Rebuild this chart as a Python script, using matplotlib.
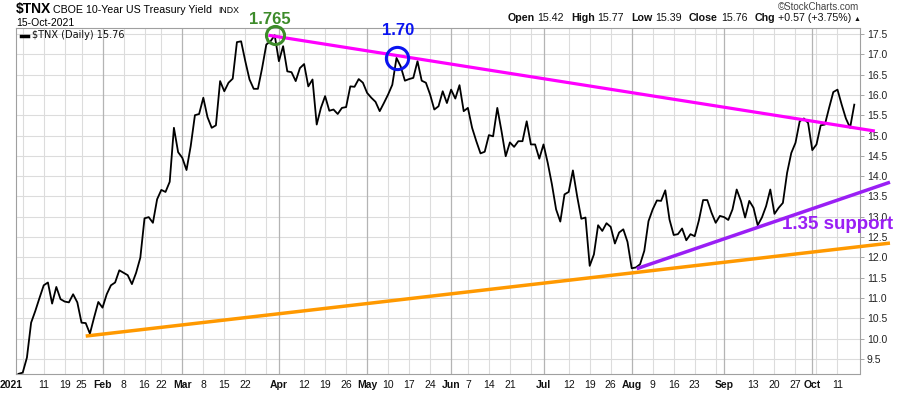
import numpy as np
import pandas as pd
import matplotlib
matplotlib.use("Agg")
import matplotlib.pyplot as plt
from matplotlib.lines import Line2D

# ---------------- data (TNX daily close, x10 yield) ----------------
prev_close = [9.13]  # 31-Dec-2020
jan = [9.16, 9.53, 10.39, 10.68, 11.00, 11.31, 11.38, 10.86, 11.27, 10.97,
       10.91, 10.89, 11.09, 10.89, 10.39, 10.38, 10.12, 10.52, 10.90]
feb = [10.76, 11.09, 11.31, 11.38, 11.68, 11.62, 11.56, 11.34, 11.62, 11.99,
       12.96, 12.99, 12.85, 13.43, 13.66, 13.61, 13.86, 15.19, 14.59]
mar = [14.45, 14.15, 14.74, 15.50, 15.53, 15.93, 15.45, 15.19, 15.25, 16.34,
       16.09, 16.30, 16.40, 17.30, 17.32, 16.83, 16.38, 16.15, 16.15, 16.66,
       17.24, 17.32, 17.47]
apr = [16.83, 17.20, 16.58, 16.56, 16.34, 16.66, 16.76, 16.21, 16.38, 15.27,
       15.68, 15.97, 15.61, 15.64, 15.53, 15.68, 15.70, 16.21, 16.20, 16.39,
       16.30]
may = [16.05, 15.93, 15.83, 15.60, 15.80, 16.01, 16.25, 16.91, 16.70, 16.35,
       16.39, 16.42, 16.83, 16.35, 16.30, 16.01, 15.64, 15.72, 16.09, 15.80]
jun = [16.13, 15.91, 16.24, 15.60, 15.68, 15.19, 14.86, 14.56, 14.60, 15.01,
       14.98, 15.68, 15.11, 14.49, 14.83, 14.72, 14.86, 14.86, 15.35, 14.78,
       14.78, 14.43]
jul = [14.78, 14.33, 13.80, 13.18, 12.88, 13.55, 13.61, 14.14, 13.51, 12.95,
       12.98, 11.79, 12.07, 12.79, 12.65, 12.84, 12.75, 12.34, 12.61, 12.69,
       12.38]
aug = [11.73, 11.75, 11.83, 12.16, 12.89, 13.18, 13.40, 13.39, 13.65, 12.93,
       12.55, 12.57, 12.71, 12.42, 12.57, 12.52, 12.91, 13.41, 13.41, 13.10,
       12.85, 13.02]
sep = [12.99, 12.92, 13.18, 13.67, 13.39, 12.98, 13.39, 13.22, 12.79, 12.98,
       13.26, 13.67, 13.07, 13.22, 13.34, 14.08, 14.57, 14.82, 15.35, 15.42,
       15.31]
oct_ = [14.64, 14.78, 15.25, 15.27, 15.68, 16.07, 16.13, 15.76, 15.42, 15.19,
        15.76]
holidays = ["2021-01-18", "2021-02-15", "2021-04-02", "2021-05-31",
            "2021-07-05", "2021-09-06"]

# trend lines: (trading-day index, value) end points
magenta_x, magenta_y = [58.5, 202.9], [17.47, 15.11]
orange_x, orange_y = [15.0, 206.5], [10.06, 12.35]
purple_x, purple_y = [146.2, 206.5], [11.72, 13.85]
peak1_idx, peak2_idx = 60, 89
y_ticks = [9.5, 10.0, 10.5, 11.0, 11.5, 12.0, 12.5, 13.0, 13.5, 14.0, 14.5,
           15.0, 15.5, 16.0, 16.5, 17.0, 17.5]

# ---------------- build series ----------------
values = np.array(prev_close + jan + feb + mar + apr + may + jun + jul + aug + sep + oct_)
d = pd.bdate_range("2021-01-04", "2021-10-15")
d = d[~d.isin(pd.to_datetime(holidays))]
assert len(d) + 1 == len(values)
x = np.arange(len(values)) - 1  # Jan 4 -> 0, Dec 31 -> -1

LS = ["Liberation Sans", "DejaVu Sans"]
W, H = 900, 396
fig = plt.figure(figsize=(W / 100, H / 100), dpi=100)
fig.patch.set_facecolor("white")


def F(px, py):
    return (px / W, 1 - py / H)


ax = fig.add_axes([16 / W, 1 - 374 / H, (860 - 16) / W, (374 - 28) / H])
ax.set_xlim(-1.6, 199.36)
ax.set_ylim(9.126, 17.648)

# grid
for yv in y_ticks:
    ax.axhline(yv, color="#dcdcdc", lw=0.8, zorder=0)

xi = np.arange(len(d))
month_start = [i for i in xi if i == 0 or d[i].month != d[i - 1].month]
week_start = [i for i in xi if i == 0 or d[i].isocalendar()[1] != d[i - 1].isocalendar()[1]]
skip_grid = {pd.Timestamp(s) for s in ["2021-04-05", "2021-07-06", "2021-09-07"]}
for i in week_start:
    if i in month_start and i != 0:
        continue
    if d[i] in skip_grid:
        continue
    ax.axvline(i, color="#dcdcdc", lw=0.8, zorder=0)
for i in month_start:
    if i == 0:
        continue
    ax.axvline(i, color="#b4b4b4", lw=0.9, zorder=0)

# price line
ax.plot(x, values, color="black", lw=1.3, zorder=3)

# trend lines
ax.plot(magenta_x, magenta_y, color="#ff00ff", lw=2.3, clip_on=False, zorder=4,
        solid_capstyle="butt")
ax.plot(orange_x, orange_y, color="#ff9900", lw=2.5, clip_on=False, zorder=4,
        solid_capstyle="butt")
ax.plot(purple_x, purple_y, color="#9a1ff5", lw=2.5, clip_on=False, zorder=4,
        solid_capstyle="butt")

# circles & labels
gx, gy = x[peak1_idx + 1], values[peak1_idx + 1]
bx, by = x[peak2_idx + 1], values[peak2_idx + 1]
ax.plot([gx], [gy], "o", ms=13, mfc="none", mec="#3d8b2a", mew=2.2, clip_on=False, zorder=5)
ax.plot([bx], [by], "o", ms=16, mfc="none", mec="#0a14f0", mew=2.2, clip_on=False, zorder=5)
ax.annotate("1.765", xy=(gx, gy), xytext=(-3.4, 11), textcoords="offset points",
            ha="center", va="center", color="#3d8b2a", fontsize=12, fontweight="bold",
            family=LS, annotation_clip=False)
ax.annotate("1.70", xy=(bx, by), xytext=(1.1, 20), textcoords="offset points",
            ha="center", va="center", color="#0a14f0", fontsize=12, fontweight="bold",
            family=LS, annotation_clip=False)
ax.text(180.7, 12.80, "1.35 support", color="#9a1ff5", fontsize=13.5, fontweight="bold",
        family=LS, ha="left", va="center", clip_on=False, zorder=6)

# axes styling
for s in ["top", "left"]:
    ax.spines[s].set_color("#a0a0a0")
    ax.spines[s].set_linewidth(0.8)
for s in ["right", "bottom"]:
    ax.spines[s].set_color("#a0a0a0")
    ax.spines[s].set_linewidth(0.8)
    ax.spines[s].set_linestyle((0, (1, 1)))

ax.yaxis.tick_right()
ax.set_yticks(y_ticks)
ax.set_yticklabels([f"{v:.1f}" for v in y_ticks], family=LS, fontsize=7.5, color="#222")
ax.tick_params(axis="y", length=3, width=0.6, color="#999", pad=2)

# x tick labels
tick_pos, tick_lab, tick_bold = [], [], []
for i in xi:
    if i in month_start:
        tick_pos.append(i)
        tick_lab.append("2021" if i == 0 else d[i].strftime("%b"))
        tick_bold.append(True)
    elif i in week_start:
        near = min(abs(i - m) for m in month_start)
        if near <= 3:
            continue
        tick_pos.append(i)
        tick_lab.append(str(d[i].day))
        tick_bold.append(False)
ax.set_xticks(tick_pos)
ax.set_xticklabels(tick_lab, family=LS, fontsize=7.5, color="#111")
for lab, b in zip(ax.get_xticklabels(), tick_bold):
    if b:
        lab.set_fontweight("bold")
ax.get_xticklabels()[0].set_ha("right")
ax.tick_params(axis="x", length=0, pad=4)

# legend
fig.add_artist(Line2D([21 / W, 28 / W], [1 - 35.5 / H] * 2, color="black", lw=2.5))
fig.text(*F(32, 38.5), "$TNX (Daily) 15.76", family="DejaVu Sans", fontsize=7,
         va="baseline", ha="left", color="#111")

# header
fig.text(*F(16, 13.5), "$TNX", family=LS, fontsize=10, fontweight="bold", va="baseline")
fig.text(*F(53, 13), "CBOE 10-Year US Treasury Yield", family=LS, fontsize=7.7, va="baseline")
fig.text(*F(218, 13), "INDX", family=LS, fontsize=6.3, va="baseline")
fig.text(*F(16, 26.5), "15-Oct-2021", family=LS, fontsize=7.5, va="baseline")
fig.text(*F(859, 10.5), "\u00a9StockCharts.com", family=LS, fontsize=7, va="baseline",
         ha="right", color="#444")

renderer = fig.canvas.get_renderer()
pieces = [("Open", "bold", 0), ("15.42", "normal", 3), ("High", "bold", 7),
          ("15.77", "normal", 3), ("Low", "bold", 7), ("15.39", "normal", 3),
          ("Close", "bold", 7), ("15.76", "normal", 3), ("Chg", "bold", 7),
          ("+0.57 (+3.75%)", "normal", 3), ("\u25b2", "normal", 2)]
xr = 860
for txt, wt, gap in reversed(pieces):
    t = fig.text(*F(xr, 21), txt, family=LS, fontsize=7.7 if txt != "\u25b2" else 5,
                 fontweight=wt, ha="right", va="baseline", color="#111")
    bb = t.get_window_extent(renderer)
    xr -= bb.width + gap

fig.savefig("out.png", dpi=100, facecolor="white")
